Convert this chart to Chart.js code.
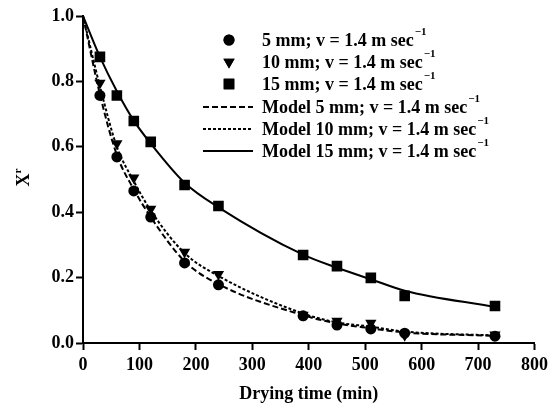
<!DOCTYPE html>
<html>
<head>
<meta charset="utf-8">
<script src="https://cdn.jsdelivr.net/npm/chart.js@4.4.1/dist/chart.umd.min.js"></script>
<style>
  html, body { margin: 0; padding: 0; background: #fff; }
  #wrap { width: 553px; height: 405px; }
</style>
</head>
<body>
<div id="wrap"><canvas id="dryChart" width="553" height="405"></canvas></div>
<script>
// drying times (min)
const times = [30, 60, 90, 120, 180, 240, 390, 450, 510, 570, 730];
const modelTimes = [0, 30, 60, 90, 120, 180, 240, 390, 450, 510, 570, 730];

// measured moisture ratio Xr
const exp5 = [0.757, 0.569, 0.465, 0.385, 0.245, 0.178, 0.083, 0.055, 0.043, 0.030, 0.021];
const exp10 = [0.795, 0.610, 0.505, 0.410, 0.278, 0.210, 0.086, 0.067, 0.061, 0.024, 0.025];
const exp15 = [0.875, 0.757, 0.679, 0.615, 0.483, 0.419, 0.269, 0.235, 0.199, 0.144, 0.113];

// model predictions
const model5 = [1.0, 0.760, 0.575, 0.470, 0.385, 0.250, 0.180, 0.085, 0.060, 0.045, 0.032, 0.022];
const model10 = [1.0, 0.785, 0.600, 0.495, 0.405, 0.275, 0.205, 0.090, 0.063, 0.050, 0.035, 0.023];
const model15 = [1.0, 0.875, 0.770, 0.680, 0.610, 0.490, 0.415, 0.270, 0.230, 0.195, 0.160, 0.110];

const xTicks = [0, 100, 200, 300, 400, 500, 600, 700, 800];
const yTicks = [0.0, 0.2, 0.4, 0.6, 0.8, 1.0];

const legendLabels = [
  '5 mm; v = 1.4 m sec',
  '10 mm; v = 1.4 m sec',
  '15 mm; v = 1.4 m sec',
  'Model 5 mm; v = 1.4 m sec',
  'Model 10 mm; v = 1.4 m sec',
  'Model 15 mm; v = 1.4 m sec'
];

const FONT = '"Liberation Serif", "Times New Roman", serif';

const pts = (xs, ys) => ys.map((v, i) => ({ x: xs[i], y: v }));

const pointSet = (label, ys, style, radius, rotation) => ({
  label: label,
  data: pts(times, ys),
  showLine: false,
  pointStyle: style,
  pointRadius: radius,
  pointRotation: rotation || 0,
  backgroundColor: '#000',
  borderColor: '#000',
  borderWidth: 0,
  order: 0
});

const modelSet = (label, ys, dash) => ({
  label: label,
  data: pts(modelTimes, ys),
  showLine: true,
  pointRadius: 0,
  borderColor: '#000',
  borderWidth: 2,
  borderDash: dash,
  cubicInterpolationMode: 'monotone',
  fill: false,
  order: 1
});

// legend and y title drawn by hand
const decor = {
  id: 'decor',
  afterDraw(chart) {
    const ctx = chart.ctx;
    ctx.save();
    ctx.fillStyle = '#000';
    ctx.strokeStyle = '#000';

    // y axis title: X with superscript r, rotated
    ctx.save();
    ctx.translate(24, 180);
    ctx.rotate(-Math.PI / 2);
    ctx.font = 'bold 18px ' + FONT;
    ctx.textAlign = 'center';
    ctx.textBaseline = 'middle';
    ctx.fillText('X', 0, 0);
    ctx.font = 'bold 11px ' + FONT;
    ctx.fillText('r', 9, -6);
    ctx.restore();

    const rows = [40, 62, 84, 107, 129, 151];
    const textX = 262;
    chart.data.datasets.forEach((ds, i) => {
      const y = rows[i];
      if (i < 3) {
        Chart.helpers.drawPoint(ctx, {
          pointStyle: ds.pointStyle,
          rotation: ds.pointRotation,
          radius: ds.pointRadius,
          borderWidth: 0
        }, 229, y);
        ctx.fill();
      } else {
        ctx.beginPath();
        ctx.lineWidth = 2;
        ctx.setLineDash(ds.borderDash || []);
        ctx.moveTo(203, y);
        ctx.lineTo(253, y);
        ctx.stroke();
        ctx.setLineDash([]);
      }
      ctx.font = 'bold 18px ' + FONT;
      ctx.textAlign = 'left';
      ctx.textBaseline = 'middle';
      const label = legendLabels[i];
      ctx.fillText(label, textX, y + 1);
      const w = ctx.measureText(label).width;
      ctx.font = 'bold 11px ' + FONT;
      ctx.fillText('\u22121', textX + w + 1, y - 8);
    });
    ctx.restore();
  }
};

new Chart(document.getElementById('dryChart'), {
  type: 'scatter',
  data: {
    datasets: [
      pointSet(legendLabels[0], exp5, 'circle', 5.5),
      pointSet(legendLabels[1], exp10, 'triangle', 6.5, 180),
      pointSet(legendLabels[2], exp15, 'rect', 7.5),
      modelSet(legendLabels[3], model5, [6, 3]),
      modelSet(legendLabels[4], model10, [3, 2]),
      modelSet(legendLabels[5], model15, [])
    ]
  },
  options: {
    responsive: false,
    animation: false,
    layout: { padding: { top: 16, right: 14, left: 0, bottom: 0 } },
    plugins: {
      legend: { display: false },
      tooltip: { enabled: false }
    },
    scales: {
      x: {
        type: 'linear',
        min: 0,
        max: 800,
        afterBuildTicks: (s) => { s.ticks = xTicks.map(v => ({ value: v })); },
        afterFit: (s) => { s.height = 62; },
        grid: { drawOnChartArea: false, tickLength: 7, tickWidth: 2, color: '#000' },
        border: { color: '#000', width: 2 },
        ticks: {
          color: '#000',
          padding: 5,
          maxRotation: 0,
          font: { family: FONT, size: 18, weight: 'bold' },
          callback: (v) => String(v)
        },
        title: {
          display: true,
          text: 'Drying time (min)',
          color: '#000',
          padding: { top: 2, bottom: 0 },
          font: { family: FONT, size: 18, weight: 'bold' }
        }
      },
      y: {
        min: 0,
        max: 1,
        afterBuildTicks: (s) => { s.ticks = yTicks.map(v => ({ value: v })); },
        afterFit: (s) => { s.width = 83; },
        grid: { drawOnChartArea: false, tickLength: 7, tickWidth: 2, color: '#000' },
        border: { color: '#000', width: 2 },
        ticks: {
          color: '#000',
          padding: 2,
          font: { family: FONT, size: 18, weight: 'bold' },
          callback: (v) => v.toFixed(1)
        }
      }
    }
  },
  plugins: [decor]
});
</script>
</body>
</html>
